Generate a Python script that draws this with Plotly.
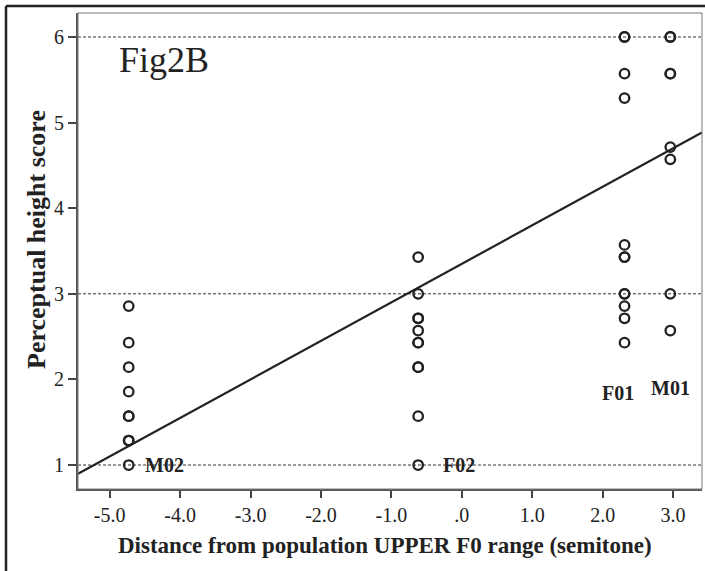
import plotly.graph_objects as go

# ---- data ----
speakers = ["M02", "F02", "F01", "M01"]
speaker_x = [-4.73, -0.62, 2.31, 2.96]
m02_scores = [1.0, 1.286, 1.286, 1.571, 1.571, 1.857, 2.143, 2.429, 2.857]
f02_scores = [1.0, 1.571, 2.143, 2.143, 2.429, 2.429, 2.571, 2.714, 2.714, 3.0, 3.429]
f01_scores = [2.429, 2.714, 2.857, 3.0, 3.0, 3.429, 3.429, 3.571, 5.286, 5.571, 6.0, 6.0]
m01_scores = [2.571, 3.0, 4.571, 4.714, 5.571, 5.571, 6.0, 6.0]
label_y = [1.0, 1.0, 1.84, 1.9]
fit_intercept = 3.35
fit_slope = 0.45
ref_lines = [1, 3, 6]
x_tickvals = [-5, -4, -3, -2, -1, 0, 1, 2, 3]
x_ticktext = ["-5.0", "-4.0", "-3.0", "-2.0", "-1.0", ".0", "1.0", "2.0", "3.0"]
y_tickvals = [1, 2, 3, 4, 5, 6]

X_RANGE = [-5.45, 3.41]
Y_RANGE = [0.72, 6.28]
FONT = "Liberation Serif"
INK = "#222222"

all_scores = [m02_scores, f02_scores, f01_scores, m01_scores]
xs, ys = [], []
for sx, sc in zip(speaker_x, all_scores):
    xs += [sx] * len(sc)
    ys += sc

fig = go.Figure()

# regression line
fx = X_RANGE
fy = [fit_intercept + fit_slope * v for v in fx]
fig.add_trace(go.Scatter(x=fx, y=fy, mode="lines",
                         line=dict(color=INK, width=2.2), hoverinfo="skip",
                         showlegend=False))

fig.add_trace(go.Scatter(x=xs, y=ys, mode="markers",
                         marker=dict(symbol="circle-open", size=9.5, color=INK,
                                     line=dict(color=INK, width=2.3)),
                         showlegend=False))

# reference dashed lines
for r in ref_lines:
    fig.add_shape(type="line", xref="paper", x0=0, x1=1, yref="y", y0=r, y1=r,
                  line=dict(color="#333333", width=1, dash="3px,2px"), layer="below")

# plot frame (top/right thin)
fig.add_shape(type="rect", xref="paper", yref="paper", x0=0, x1=1, y0=0, y1=1,
              line=dict(color="#777777", width=1))

# outer figure frame (top and left thick)
fig.add_shape(type="line", xref="paper", yref="paper",
              x0=(6 - 78) / 624, x1=1.2, y0=(489 - 6) / 476, y1=(489 - 6) / 476,
              line=dict(color=INK, width=2.5))
fig.add_shape(type="line", xref="paper", yref="paper",
              x0=(6 - 78) / 624, x1=(6 - 78) / 624, y0=(489 - 6) / 476, y1=-0.3,
              line=dict(color=INK, width=2.5))

# speaker labels
label_xshift = [36, 41, -7, 0]
for name, sx, ly, xsft in zip(speakers, speaker_x, label_y, label_xshift):
    fig.add_annotation(x=sx, y=ly, text="<b>%s</b>" % name, showarrow=False,
                       xshift=xsft, font=dict(family=FONT, size=20, color=INK))

fig.add_annotation(xref="paper", yref="paper", x=(117 - 78) / 624, y=(489 - 60) / 476,
                   xanchor="left", yanchor="middle", text="Fig2B", showarrow=False,
                   font=dict(family=FONT, size=36, color=INK))

# axis titles
fig.add_annotation(xref="paper", yref="paper", x=0.492, y=(489 - 545) / 476,
                   xanchor="center", yanchor="middle", showarrow=False,
                   text="<b>Distance from population UPPER F0 range (semitone)</b>",
                   font=dict(family=FONT, size=23, color=INK))
fig.add_annotation(xref="paper", yref="paper", x=(36 - 78) / 624, y=(489 - 240) / 476,
                   xanchor="center", yanchor="middle", showarrow=False, textangle=-90,
                   text="<b>Perceptual height score</b>",
                   font=dict(family=FONT, size=26, color=INK))

fig.update_layout(
    width=705, height=571,
    margin=dict(l=78, r=3, t=13, b=82),
    paper_bgcolor="white", plot_bgcolor="white",
    font=dict(family=FONT, color=INK),
)
fig.update_xaxes(range=X_RANGE, tickvals=x_tickvals, ticktext=x_ticktext,
                 showgrid=False, zeroline=False, showline=True, linecolor="#555555",
                 linewidth=2, ticks="outside", ticklen=7, tickwidth=1.5,
                 tickcolor="#444444", tickfont=dict(family=FONT, size=20, color=INK))
fig.update_yaxes(range=Y_RANGE, tickvals=y_tickvals,
                 showgrid=False, zeroline=False, showline=True, linecolor="#555555",
                 linewidth=2, ticks="outside", ticklen=8, tickwidth=1.5,
                 tickcolor="#444444", tickfont=dict(family=FONT, size=20, color=INK))

fig.write_html("out.html")
